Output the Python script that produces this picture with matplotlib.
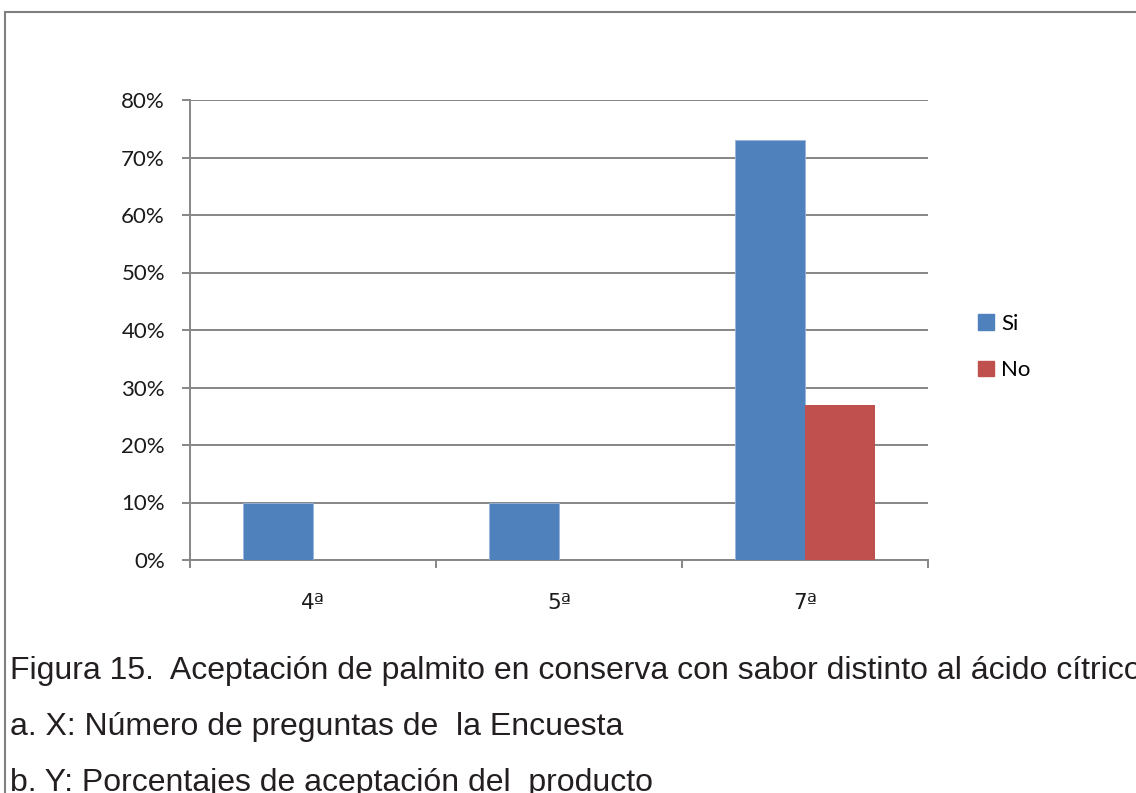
import matplotlib
matplotlib.use("Agg")
import matplotlib.pyplot as plt
from matplotlib.patches import Rectangle, Patch
import numpy as np

# survey questions and share of answers per question
preguntas = ["4ª", "5ª", "7ª"]
si = [10, 10, 73]
no = [0, 0, 27]
yticks = [0, 10, 20, 30, 40, 50, 60, 70, 80]

azul = "#4F81BD"
rojo = "#C0504D"
gris = "#868686"

W, H = 1136, 793
fig = plt.figure(figsize=(W / 100, H / 100), dpi=100)

# outer frame of the chart area (runs past the bottom and right edges)
fig.patches.append(Rectangle((5 / W, -0.05), 1.2, 1 - 12 / H + 0.05,
                             transform=fig.transFigure, fill=False,
                             edgecolor="#7f7f7f", linewidth=1.5))

ax = fig.add_axes([190 / W, 1 - 560 / H, 738 / W, 460 / H])

x = np.arange(len(preguntas))
ancho = 70 / 246
ax.bar(x - ancho / 2, si, ancho, color=azul, edgecolor="#9ab5dc", linewidth=0.6, label="Si", zorder=3)
ax.bar(x + ancho / 2, no, ancho, color=rojo, label="No", zorder=3)

ax.set_xlim(-0.5, len(preguntas) - 0.5)
ax.set_ylim(0, 80)
ax.set_yticks(yticks)
ax.set_yticklabels([f"{v}%" for v in yticks])
ax.yaxis.grid(True, color=gris, linewidth=1.4, zorder=0)

# category boundaries as major ticks, names on minor ticks
ax.set_xticks(np.arange(-0.5, len(preguntas), 1.0))
ax.set_xticklabels([])
ax.set_xticks(x, minor=True)
ax.set_xticklabels(preguntas, minor=True)
ax.tick_params(axis="x", which="major", length=6, width=1.4, color=gris, direction="out")
ax.tick_params(axis="x", which="minor", length=0, pad=24)
ax.tick_params(axis="y", length=6, width=1.4, color=gris, pad=12)

for lab in ax.get_yticklabels():
    lab.set_fontfamily("Lato")
    lab.set_fontsize(16)
    lab.set_color("#1a1a1a")
for lab in ax.get_xticklabels(minor=True):
    lab.set_fontfamily("DejaVu Sans")
    lab.set_fontsize(15.5)
    lab.set_color("#1a1a1a")

for s in ["top", "right"]:
    ax.spines[s].set_visible(False)
ax.spines["left"].set_color(gris)
ax.spines["left"].set_linewidth(1.4)
ax.spines["bottom"].set_color(gris)
ax.spines["bottom"].set_linewidth(1.4)

handles = [Patch(color=azul, label="Si"), Patch(color=rojo, label="No")]
ax.legend(handles=handles, loc="center left", bbox_to_anchor=(958 / W, 1 - 347 / H),
          bbox_transform=fig.transFigure, frameon=False,
          prop={"family": "Lato", "size": 16}, handlelength=0.7, handleheight=0.7,
          handletextpad=0.35, labelspacing=1.2)

caption = [
    "Figura 15.  Aceptación de palmito en conserva con sabor distinto al ácido cítrico",
    "a. X: Número de preguntas de  la Encuesta",
    "b. Y: Porcentajes de aceptación del  producto",
]
for i, linea in enumerate(caption):
    fig.text(10 / W, 1 - (679 + 56 * i) / H, linea, ha="left", va="baseline",
             fontfamily="Liberation Sans", fontsize=23, color="#231f20")

fig.savefig("out.png", dpi=100)
